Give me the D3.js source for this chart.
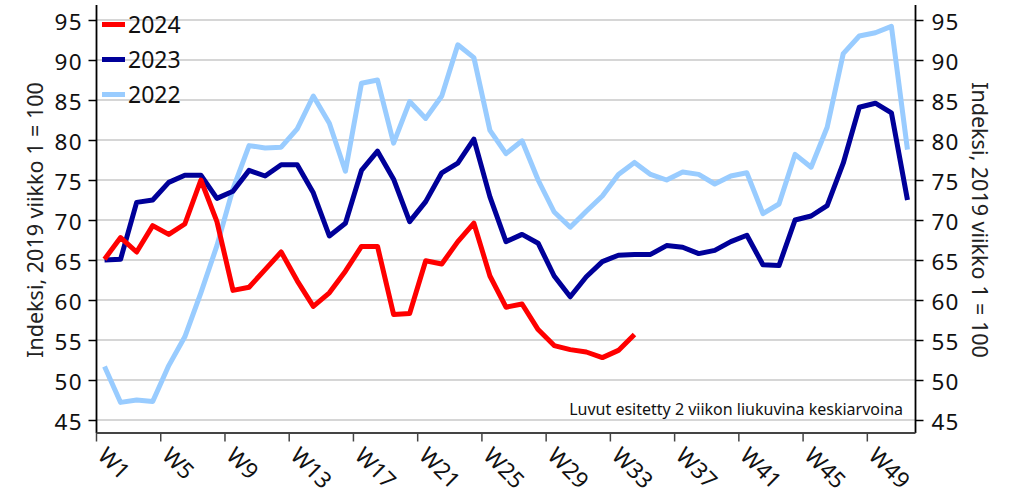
<!DOCTYPE html>
<html>
<head>
<meta charset="utf-8">
<script src="https://cdn.jsdelivr.net/npm/d3@7"></script>
<style>
  html, body { margin: 0; padding: 0; background: #fff; }
  svg { display: block; font-family: "Noto Sans", "Open Sans", sans-serif; }
</style>
</head>
<body>
<svg id="chart" width="1015" height="497"></svg>
<script>
// Week categories (x axis)
const weeks = ["W1","W2","W3","W4","W5","W6","W7","W8","W9","W10",
  "W11","W12","W13","W14","W15","W16","W17","W18","W19","W20",
  "W21","W22","W23","W24","W25","W26","W27","W28","W29","W30",
  "W31","W32","W33","W34","W35","W36","W37","W38","W39","W40",
  "W41","W42","W43","W44","W45","W46","W47","W48","W49","W50","W51"];

// Labelled weeks on the x axis
const weekTicks = ["W1","W5","W9","W13","W17","W21","W25","W29","W33","W37","W41","W45","W49"];

// Index values (2019 week 1 = 100), two-week moving averages
const values2024 = [65.1, 67.8, 66.0, 69.3, 68.2, 69.5, 75.0, 69.8, 61.2, 61.6,
  63.8, 66.0, 62.4, 59.2, 60.9, 63.6, 66.7, 66.7, 58.2, 58.3,
  64.9, 64.5, 67.3, 69.6, 63.0, 59.1, 59.5, 56.3, 54.3, 53.8,
  53.5, 52.8, 53.7, 55.7];

const values2023 = [65.0, 65.1, 72.2, 72.5, 74.7, 75.6, 75.6, 72.7, 73.6, 76.2,
  75.5, 76.9, 76.9, 73.4, 68.0, 69.6, 76.2, 78.6, 75.1, 69.8,
  72.3, 75.9, 77.1, 80.1, 72.9, 67.3, 68.2, 67.1, 63.0, 60.4,
  62.9, 64.8, 65.6, 65.7, 65.7, 66.8, 66.6, 65.8, 66.2, 67.3,
  68.1, 64.4, 64.3, 70.0, 70.5, 71.8, 77.1, 84.1, 84.6, 83.4, 72.5];

const values2022 = [51.7, 47.2, 47.5, 47.3, 51.8, 55.4, 60.9, 66.8, 73.9, 79.3,
  79.0, 79.1, 81.4, 85.5, 82.1, 76.1, 87.1, 87.5, 79.6, 84.8,
  82.7, 85.5, 91.9, 90.3, 81.2, 78.3, 79.9, 75.0, 71.0, 69.1,
  71.1, 73.0, 75.7, 77.2, 75.7, 75.0, 76.0, 75.7, 74.5, 75.5,
  75.9, 70.8, 72.0, 78.2, 76.6, 81.6, 90.8, 93.0, 93.4, 94.2, 78.8];

const seriesNames = ["2024", "2023", "2022"];
const seriesColors = ["#ff0000", "#000099", "#99ccff"];

const yTicks = [45, 50, 55, 60, 65, 70, 75, 80, 85, 90, 95];

const axisTitle = "Indeksi, 2019 viikko 1 = 100";
const noteText = "Luvut esitetty 2 viikon liukuvina keskiarvoina";

// ---------------------------------------------------------------
const svg = d3.select("#chart");
const plot = { left: 96.5, right: 915.5, top: 5, bottom: 433 };

const x = d3.scaleBand().domain(weeks).range([plot.left, plot.right]).padding(0);
const xc = w => x(w) + x.bandwidth() / 2;
const y = d3.scaleLinear().domain([43.375, 96.875]).range([plot.bottom, plot.top]);

// horizontal gridlines
svg.append("g")
  .selectAll("line")
  .data(yTicks)
  .join("line")
  .attr("x1", plot.left).attr("x2", plot.right)
  .attr("y1", d => y(d)).attr("y2", d => y(d))
  .attr("stroke", "#c8c8c8")
  .attr("stroke-width", 1.5);

// left value axis
const yLeft = svg.append("g")
  .attr("transform", `translate(${plot.left},0)`)
  .call(d3.axisLeft(y).tickValues(yTicks).tickSize(8).tickPadding(7));
// right value axis
const yRight = svg.append("g")
  .attr("transform", `translate(${plot.right},0)`)
  .call(d3.axisRight(y).tickValues(yTicks).tickSize(8).tickPadding(8));

[yLeft, yRight].forEach(g => {
  g.select(".domain").attr("stroke", "#000").attr("stroke-width", 1.8)
    .attr("d", `M0,${plot.top}V${plot.bottom}`);
  g.selectAll(".tick line").attr("stroke", "#000").attr("stroke-width", 1.5);
  g.selectAll(".tick text")
    .attr("font-size", 22.5)
    .attr("letter-spacing", "1.2px")
    .attr("fill", "#111")
    .attr("dy", "0.41em")
    .style("font-family", "'Noto Sans', sans-serif");
});
// keep right-aligned labels flush despite trailing letter spacing
yLeft.selectAll(".tick text").attr("dx", "1.2px");

// category axis
const xAxis = svg.append("g")
  .attr("transform", `translate(0,${plot.bottom})`);
xAxis.append("line")
  .attr("x1", plot.left).attr("x2", plot.right)
  .attr("stroke", "#444").attr("stroke-width", 2);
xAxis.selectAll("line.tick")
  .data(weekTicks)
  .join("line")
  .attr("class", "tick")
  .attr("x1", d => x(d)).attr("x2", d => x(d))
  .attr("y1", 0).attr("y2", 8.5)
  .attr("stroke", "#444").attr("stroke-width", 1.5);
xAxis.selectAll("text")
  .data(weekTicks)
  .join("text")
  .attr("transform", d => `translate(${x(d)},${24}) rotate(45)`)
  .attr("font-size", 22.5)
  .attr("fill", "#111")
  .text(d => d);

// axis titles
svg.append("text")
  .attr("transform", `translate(43,220) rotate(-90)`)
  .attr("text-anchor", "middle")
  .attr("font-size", 21.5)
  .attr("fill", "#222")
  .text(axisTitle);
svg.append("text")
  .attr("transform", `translate(972,220) rotate(90)`)
  .attr("text-anchor", "middle")
  .attr("font-size", 21.5)
  .attr("fill", "#222")
  .text(axisTitle);

// series lines
const allSeries = [values2024, values2023, values2022];
const line = d3.line()
  .x((d, i) => xc(weeks[i]))
  .y(d => y(d));

svg.append("g")
  .selectAll("path")
  .data(allSeries.map((v, i) => ({ v, i })).reverse())
  .join("path")
  .attr("d", d => line(d.v))
  .attr("fill", "none")
  .attr("stroke", d => seriesColors[d.i])
  .attr("stroke-width", 5)
  .attr("stroke-linejoin", "round");

// note
svg.append("text")
  .attr("x", 903).attr("y", 415)
  .attr("text-anchor", "end")
  .attr("font-size", 16)
  .attr("fill", "#111")
  .text(noteText);

// legend
const legend = svg.append("g")
  .selectAll("g")
  .data(seriesNames)
  .join("g")
  .attr("transform", (d, i) => `translate(102,${24.5 + i * 35})`);
legend.append("line")
  .attr("x1", 0).attr("x2", 23)
  .attr("stroke", (d, i) => seriesColors[i])
  .attr("stroke-width", 5);
legend.append("text")
  .attr("x", 26).attr("y", 8.5)
  .attr("font-size", 23)
  .attr("fill", "#111")
  .text(d => d);
</script>
</body>
</html>
